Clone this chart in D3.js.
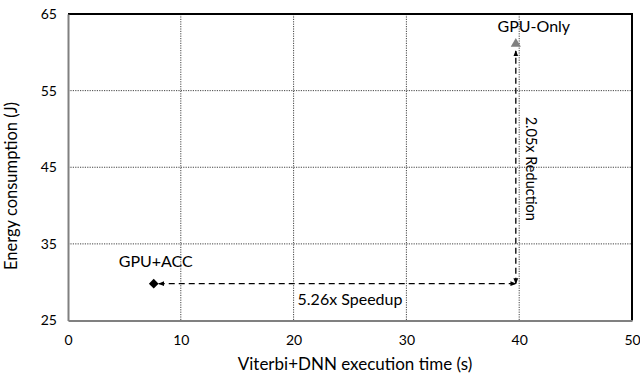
<!DOCTYPE html>
<html>
<head>
<meta charset="utf-8">
<script src="https://cdn.jsdelivr.net/npm/d3@7"></script>
<style>
  body { margin: 0; background: #fff; }
  svg text { font-family: Lato, "Open Sans", sans-serif; fill: #000; }
</style>
</head>
<body>
<svg id="chart" width="640" height="374"></svg>
<script>
// data
const configs = ["GPU+ACC", "GPU-Only"];
const execTime = [7.6, 39.7];      // seconds
const energy = [29.8, 61.1];       // joules
const xTicks = [0, 10, 20, 30, 40, 50];
const yTicks = [25, 35, 45, 55, 65];
const speedupLabel = "5.26x Speedup";
const reductionLabel = "2.05x Reduction";

const margin = { top: 14, right: 8, bottom: 53.5, left: 68 };
const width = 640 - margin.left - margin.right;
const height = 374 - margin.top - margin.bottom;

const svg = d3.select("#chart");

const defs = svg.append("defs");
defs.append("marker")
  .attr("id", "head")
  .attr("viewBox", "0 0 10 10")
  .attr("refX", 9).attr("refY", 5)
  .attr("markerWidth", 6).attr("markerHeight", 6)
  .attr("orient", "auto-start-reverse")
  .attr("markerUnits", "userSpaceOnUse")
  .append("path")
  .attr("d", "M0,1 L10,5 L0,9 Z")
  .attr("fill", "#000");

const g = svg.append("g")
  .attr("transform", "translate(" + margin.left + "," + margin.top + ")");

// scales
const x = d3.scaleLinear().domain([0, 50]).range([0, width]);
const y = d3.scaleLinear().domain([25, 65]).range([height, 0]);

// gridlines
g.append("g")
  .selectAll("line")
  .data(xTicks.slice(1, -1))
  .enter()
  .append("line")
  .attr("x1", d => x(d)).attr("x2", d => x(d))
  .attr("y1", 0).attr("y2", height)
  .attr("stroke", "#444")
  .attr("stroke-dasharray", "1.2,1.2");

g.append("g")
  .selectAll("line")
  .data(yTicks.slice(1, -1))
  .enter()
  .append("line")
  .attr("x1", 0).attr("x2", width)
  .attr("y1", d => y(d)).attr("y2", d => y(d))
  .attr("stroke", "#444")
  .attr("stroke-dasharray", "1.2,1.2");

// top and right border
g.append("path")
  .attr("d", "M0,0 H" + width + " V" + height)
  .attr("fill", "none")
  .attr("stroke", "#000")
  .attr("stroke-width", 2);

// axes
const xAxis = g.append("g")
  .attr("transform", "translate(0," + height + ")")
  .call(d3.axisBottom(x).tickValues(xTicks).tickSize(0).tickPadding(15));
const yAxis = g.append("g")
  .call(d3.axisLeft(y).tickValues(yTicks).tickSize(0).tickPadding(11));

[xAxis, yAxis].forEach(a => {
  a.select(".domain").attr("stroke", "#808080").attr("stroke-width", 2);
  a.selectAll("text").style("font-size", "14px").style("font-family", "Lato, sans-serif");
});

// axis titles
g.append("text")
  .attr("x", 355 - margin.left)
  .attr("y", height + 49)
  .attr("text-anchor", "middle")
  .style("font-size", "17px")
  .text("Viterbi+DNN execution time (s)");

g.append("text")
  .attr("transform", "translate(-51," + (186 - margin.top) + ") rotate(-90)")
  .attr("text-anchor", "middle")
  .style("font-size", "16.5px")
  .text("Energy consumption (J)");

// arrows
const acc = 0, gpu = 1;
g.append("line")
  .attr("x1", x(execTime[acc]) + 5).attr("y1", y(energy[acc]))
  .attr("x2", x(execTime[gpu])).attr("y2", y(energy[acc]))
  .attr("stroke", "#000").attr("stroke-width", 1.3)
  .attr("stroke-dasharray", "6,4")
  .attr("marker-start", "url(#head)")
  .attr("marker-end", "url(#head)");

g.append("line")
  .attr("x1", x(execTime[gpu])).attr("y1", y(energy[acc]))
  .attr("x2", x(execTime[gpu])).attr("y2", y(energy[gpu]) + 7)
  .attr("stroke", "#000").attr("stroke-width", 1.3)
  .attr("stroke-dasharray", "6,4")
  .attr("marker-start", "url(#head)")
  .attr("marker-end", "url(#head)");

// points
g.append("path")
  .attr("transform", "translate(" + x(execTime[acc]) + "," + y(energy[acc]) + ")")
  .attr("d", d3.symbol(d3.symbolDiamond2, 60)())
  .attr("fill", "#000");

g.append("path")
  .attr("transform", "translate(" + x(execTime[gpu]) + "," + y(energy[gpu]) + ")")
  .attr("d", d3.symbol(d3.symbolTriangle, 45)())
  .attr("fill", "#808080");

// labels
g.append("text")
  .attr("x", x(execTime[acc]) + 2)
  .attr("y", y(energy[acc]) - 17)
  .attr("text-anchor", "middle")
  .style("font-size", "16px")
  .text(configs[acc]);

g.append("text")
  .attr("x", x(execTime[gpu]) + 18)
  .attr("y", y(energy[gpu]) - 12)
  .attr("text-anchor", "middle")
  .style("font-size", "16px")
  .text(configs[gpu]);

g.append("text")
  .attr("x", x(25))
  .attr("y", y(energy[acc]) + 21)
  .attr("text-anchor", "middle")
  .style("font-size", "16px")
  .text(speedupLabel);

g.append("text")
  .attr("transform", "translate(" + (x(execTime[gpu]) + 10) + "," + y(44.8) + ") rotate(90)")
  .attr("text-anchor", "middle")
  .style("font-size", "14.5px")
  .text(reductionLabel);
</script>
</body>
</html>
